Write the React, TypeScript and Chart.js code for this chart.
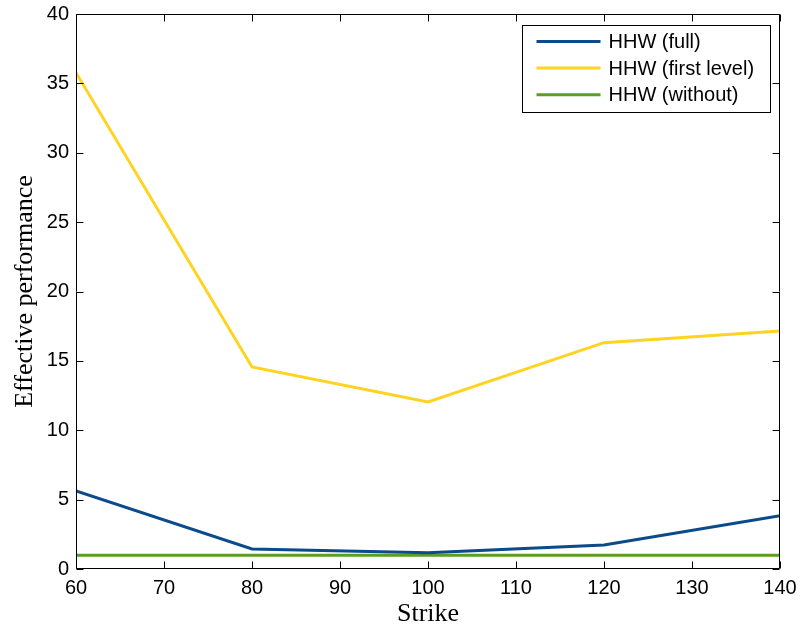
import React, { useEffect, useRef } from "react";
import { Chart, registerables } from "chart.js";

Chart.register(...registerables);

const strikes = [60, 80, 100, 120, 140];
const hhwFull = [5.62, 1.44, 1.17, 1.73, 3.84];
const hhwFirstLevel = [35.77, 14.56, 12.04, 16.31, 17.15];
const hhwWithout = [1.0, 1.0, 1.0, 1.0, 1.0];
const seriesLabels = ["HHW (full)", "HHW (first level)", "HHW (without)"];
const seriesColors = ["#0b4a8b", "#ffd320", "#5a9e22"];
const xTitle = "Strike";
const yTitle = "Effective performance";

const TICK_LEN = 7;

const boxPlugin = {
  id: "matlabBox",
  afterDraw(chart: any) {
    const ctx = chart.ctx;
    const { left, right, top, bottom } = chart.chartArea;
    const L = Math.round(left) + 0.5;
    const R = Math.round(right) - 0.5;
    const T = Math.round(top) + 0.5;
    const B = Math.round(bottom) - 0.5;
    ctx.save();
    ctx.strokeStyle = "#000";
    ctx.lineWidth = 1;
    ctx.beginPath();
    ctx.rect(L, T, R - L, B - T);
    ctx.stroke();
    // ticks
    const xs = chart.scales.x;
    const ys = chart.scales.y;
    ctx.beginPath();
    xs.ticks.forEach((t: any) => {
      const px = Math.round(xs.getPixelForValue(t.value)) + 0.5;
      ctx.moveTo(px, B);
      ctx.lineTo(px, B - TICK_LEN);
      ctx.moveTo(px, T);
      ctx.lineTo(px, T + TICK_LEN);
    });
    ys.ticks.forEach((t: any) => {
      const py = Math.round(ys.getPixelForValue(t.value)) + 0.5;
      ctx.moveTo(L, py);
      ctx.lineTo(L + TICK_LEN, py);
      ctx.moveTo(R, py);
      ctx.lineTo(R - TICK_LEN, py);
    });
    ctx.stroke();

    // legend
    const lx1 = Math.round(right - 10) + 0.5;
    const lx0 = lx1 - 248;
    const ly0 = Math.round(top + 11) + 0.5;
    const ly1 = ly0 + 87;
    ctx.fillStyle = "#fff";
    ctx.fillRect(lx0, ly0, lx1 - lx0, ly1 - ly0);
    ctx.strokeStyle = "#000";
    ctx.lineWidth = 1;
    ctx.strokeRect(lx0, ly0, lx1 - lx0, ly1 - ly0);
    ctx.font = '20px "Liberation Sans", Arial, sans-serif';
    ctx.textBaseline = "middle";
    ctx.textAlign = "left";
    chart.data.datasets.forEach((ds: any, i: number) => {
      const y = ly0 + 16 + i * 26.6;
      ctx.strokeStyle = ds.borderColor;
      ctx.lineWidth = 3;
      ctx.beginPath();
      ctx.moveTo(lx0 + 14, y);
      ctx.lineTo(lx0 + 78, y);
      ctx.stroke();
      ctx.fillStyle = "#000";
      ctx.fillText(ds.label, lx0 + 86, y + 1);
    });
    ctx.restore();
  },
};

export default function App() {
  const ref = useRef<HTMLCanvasElement | null>(null);
  useEffect(() => {
    document.body.style.margin = "0";
    const canvas = ref.current!;
    const values = [hhwFull, hhwFirstLevel, hhwWithout];
    const chart = new Chart(canvas, {
      type: "line",
      data: {
        datasets: values.map((vals, i) => ({
          label: seriesLabels[i],
          data: strikes.map((s, j) => ({ x: s, y: vals[j] })),
          borderColor: seriesColors[i],
          backgroundColor: seriesColors[i],
          borderWidth: 3,
          pointRadius: 0,
          tension: 0,
          fill: false,
        })),
      },
      options: {
        responsive: false,
        animation: false,
        devicePixelRatio: 1,
        layout: { padding: { top: 14, right: 22, left: 0, bottom: 0 } },
        plugins: {
          legend: { display: false },
          tooltip: { enabled: false },
        },
        scales: {
          x: {
            type: "linear",
            min: 60,
            max: 140,
            grid: { display: false, drawTicks: false },
            border: { display: false },
            ticks: {
              stepSize: 10,
              padding: 7,
              color: "#000",
              font: { family: '"Liberation Sans", Arial, sans-serif', size: 20 },
            },
            title: {
              display: true,
              text: xTitle,
              color: "#000",
              padding: { top: 0, bottom: 0 },
              font: { family: '"Liberation Serif", "Times New Roman", serif', size: 26 },
            },
            afterFit: (s: any) => {
              s.height = 61;
              s.paddingLeft = 0;
              s.paddingRight = 0;
            },
          },
          y: {
            min: 0,
            max: 40,
            grid: { display: false, drawTicks: false },
            border: { display: false },
            ticks: {
              stepSize: 5,
              padding: 7,
              color: "#000",
              font: { family: '"Liberation Sans", Arial, sans-serif', size: 20 },
            },
            title: {
              display: true,
              text: yTitle,
              color: "#000",
              padding: { top: 10, bottom: 0 },
              font: { family: '"Liberation Serif", "Times New Roman", serif', size: 26 },
            },
            afterFit: (s: any) => {
              s.width = 76;
              s.paddingTop = 0;
              s.paddingBottom = 0;
            },
          },
        },
      },
      plugins: [boxPlugin],
    });
    return () => chart.destroy();
  }, []);
  return (
    <div style={{ width: 802, height: 630 }}>
      <canvas ref={ref} width={802} height={630} style={{ display: "block" }} />
    </div>
  );
}
